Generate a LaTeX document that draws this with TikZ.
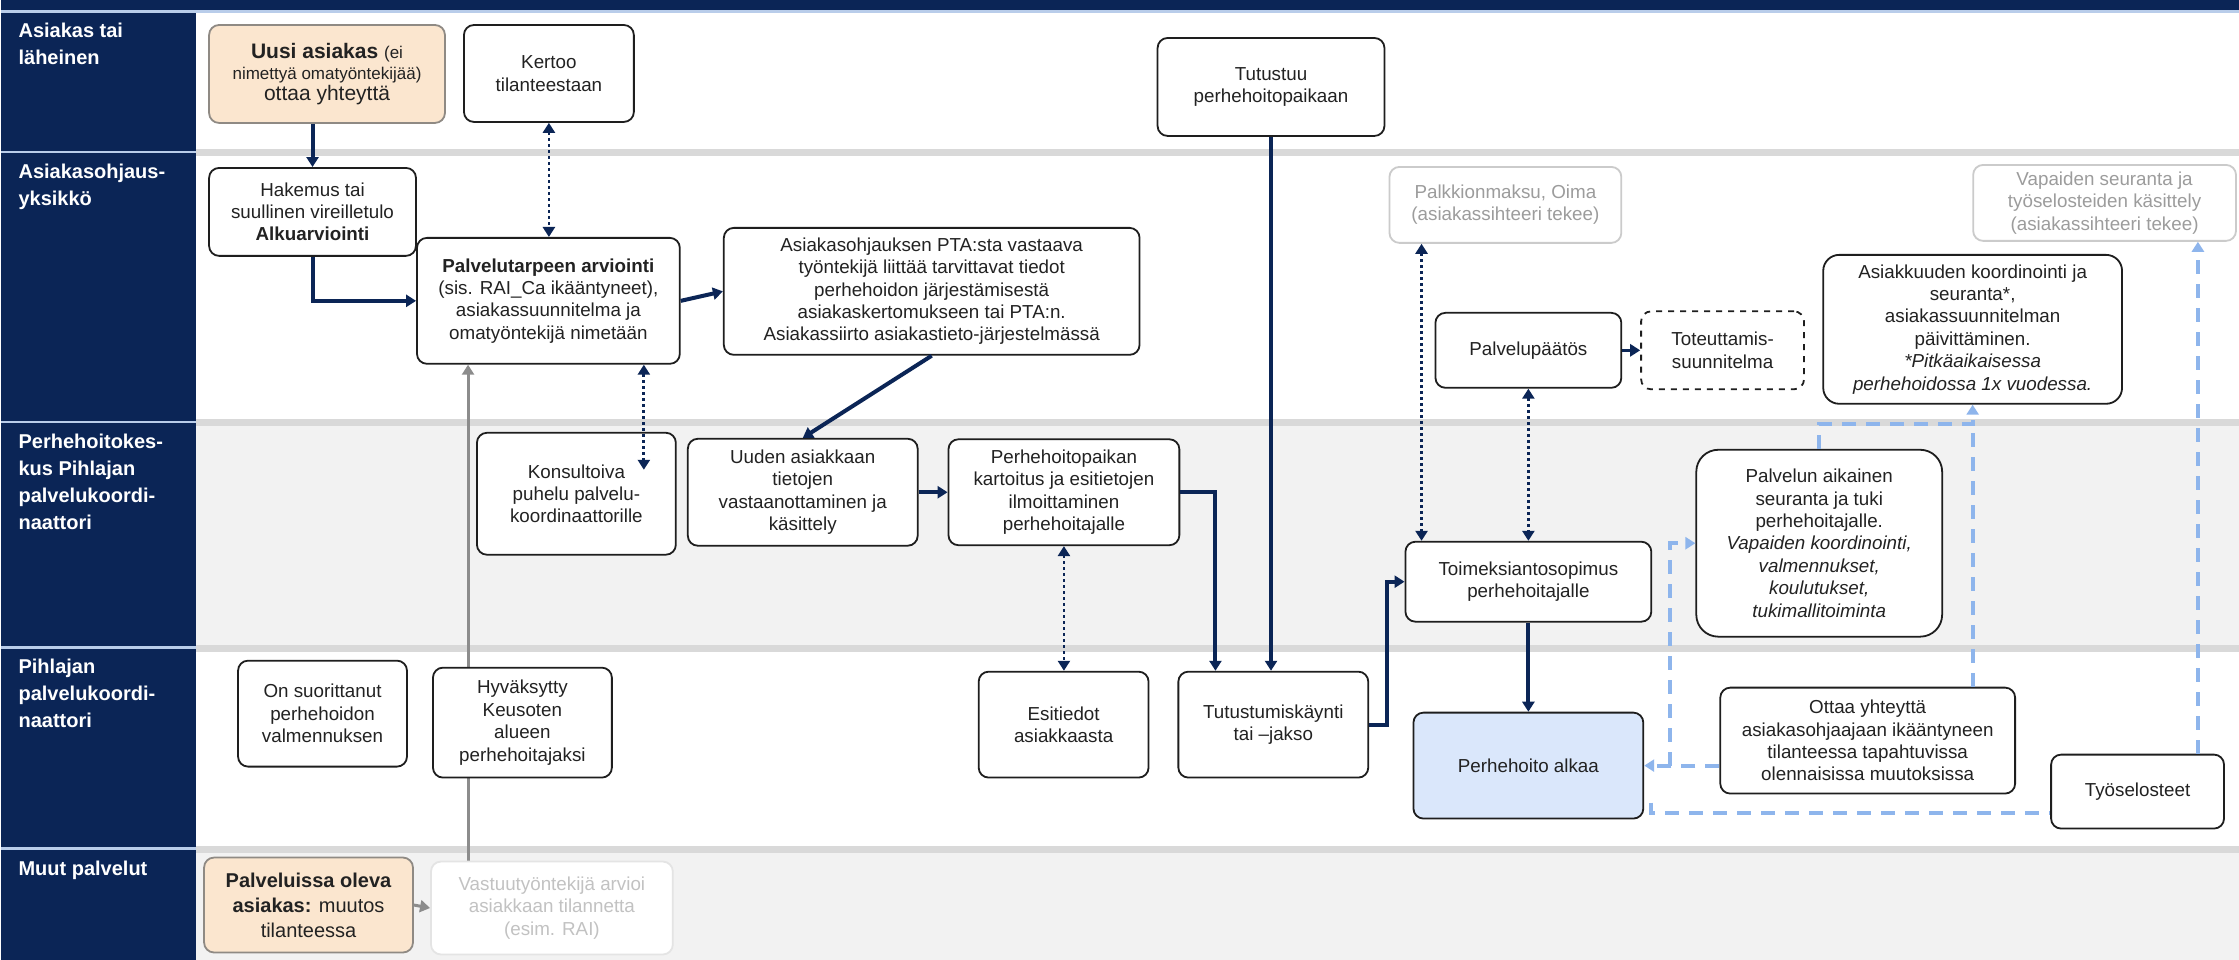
\documentclass[tikz,border=0pt]{standalone}
\usepackage{fontspec}
\setmainfont{Liberation Sans}
\usepackage{tikz}
\usetikzlibrary{arrows.meta,positioning}
\definecolor{navy}{HTML}{0B2556}
\definecolor{ink}{HTML}{222222}
\definecolor{boxline}{HTML}{1E1E1E}
\definecolor{beige}{HTML}{FBE6CF}
\definecolor{beigeline}{HTML}{8F8A84}
\definecolor{faintline}{HTML}{CBCBCB}
\definecolor{fainttext}{HTML}{9C9C9C}
\definecolor{paleline}{HTML}{E4E4E4}
\definecolor{paletext}{HTML}{C2C2C2}
\definecolor{startblue}{HTML}{DAE7FB}
\definecolor{linkblue}{HTML}{8EB5EC}
\definecolor{arrowgray}{HTML}{8C8C8C}
\definecolor{sepgray}{HTML}{D9D9D9}
\definecolor{lanegray}{HTML}{F2F2F2}
\definecolor{laneline}{HTML}{B9CDEA}
\pgfdeclarelayer{lanes}
\pgfdeclarelayer{behind}
\pgfsetlayers{lanes,behind,main}

\begin{document}
\begin{tikzpicture}[x=0.5pt,y=-0.5pt,>={Triangle[length=5pt,width=6pt]}]
	\tikzstyle{box}=[draw=boxline, rectangle, rounded corners=5pt, fill=white, align=center, text=ink, line width=0.9pt, inner sep=2pt, font=\fontsize{9.4}{11.2}\selectfont]
	\tikzstyle{start}=[box, fill=beige, draw=beigeline]
	\tikzstyle{faint}=[box, draw=faintline, text=fainttext]
	\tikzstyle{pale}=[box, draw=paleline, text=paletext]
	\tikzstyle{lanelabel}=[anchor=north west, text=white, align=left, inner sep=0pt, font=\bfseries\fontsize{10}{13.5}\selectfont]
	\tikzstyle{flow}=[->, draw=navy, line width=2pt]
	\tikzstyle{info}=[<->, draw=navy, line width=1.4pt, dash pattern=on 1.4pt off 1.6pt]
	\tikzstyle{link}=[->, draw=linkblue, line width=2pt, dash pattern=on 7pt off 5pt]
	\tikzstyle{grayflow}=[->, draw=arrowgray, line width=1.5pt]

	% lanes
	\begin{pgfonlayer}{lanes}
		\fill[navy] (0,0) rectangle (2239,10);
		\fill[laneline] (0,10) rectangle (2239,13);
		\fill[navy] (0,13) rectangle (195,960);
		\fill[white] (195,13) rectangle (2239,149);
		\fill[sepgray] (195,149) rectangle (2239,156);
		\fill[white] (195,156) rectangle (2239,419);
		\fill[sepgray] (195,419) rectangle (2239,426);
		\fill[lanegray] (195,426) rectangle (2239,645);
		\fill[sepgray] (195,645) rectangle (2239,652);
		\fill[white] (195,652) rectangle (2239,846);
		\fill[sepgray] (195,846) rectangle (2239,853);
		\fill[lanegray] (195,853) rectangle (2239,960);
		\draw[laneline, line width=1.2pt] (0,152) -- (195,152);
		\draw[laneline, line width=1.2pt] (0,422) -- (195,422);
		\draw[laneline, line width=1.2pt] (0,648) -- (195,648);
		\draw[laneline, line width=1.2pt] (0,849) -- (195,849);
	\end{pgfonlayer}

	\node[lanelabel] (lab1) at (17,23) {Asiakas tai\\läheinen};
	\node[lanelabel] (lab2) at (17,164) {Asiakasohjaus-\\yksikkö};
	\node[lanelabel] (lab3) at (17,434) {Perhehoitokes-\\kus Pihlajan\\palvelukoordi-\\naattori};
	\node[lanelabel] (lab4) at (17,659) {Pihlajan\\palvelukoordi-\\naattori};
	\node[lanelabel] (lab5) at (17,861) {Muut palvelut};

	% Asiakas tai läheinen
	\node[start, minimum width=118pt, minimum height=49pt, font=\fontsize{10.5}{10.5}\selectfont] (uusi) at (326,74) {{\bfseries Uusi asiakas} {\fontsize{8.5}{10}\selectfont(ei}\\{\fontsize{8.5}{10}\selectfont nimettyä omatyöntekijää)}\\ottaa yhteyttä};
	\node[box, minimum width=85pt, minimum height=48.5pt] (kertoo) at (548,73.5) {Kertoo\\tilanteestaan};
	\node[box, minimum width=113.5pt, minimum height=49pt] (tutustuu) at (1270.5,87) {Tutustuu\\perhehoitopaikaan};

	% Asiakasohjausyksikkö
	\node[box, minimum width=103.5pt, minimum height=44pt] (hakemus) at (311.5,212) {Hakemus tai\\suullinen vireilletulo\\\textbf{Alkuarviointi}};
	\node[box, minimum width=131.5pt, minimum height=63pt] (pta) at (547.5,301) {\textbf{Palvelutarpeen arviointi}\\(sis. RAI\_Ca ikääntyneet),\\asiakassuunnitelma ja\\omatyöntekijä nimetään};
	\node[box, minimum width=208pt, minimum height=63.5pt] (siirto) at (931,291.5) {Asiakasohjauksen PTA:sta vastaava\\työntekijä liittää tarvittavat tiedot\\perhehoidon järjestämisestä\\asiakaskertomukseen tai PTA:n.\\Asiakassiirto asiakastieto-järjestelmässä};
	\node[faint, minimum width=116pt, minimum height=38pt] (palkkio) at (1505,205) {Palkkionmaksu, Oima\\(asiakassihteeri tekee)};
	\node[faint, minimum width=131.5pt, minimum height=38pt] (vapaat) at (2104.5,203) {Vapaiden seuranta ja\\työselosteiden käsittely\\(asiakassihteeri tekee)};
	\node[box, minimum width=93pt, minimum height=37.5pt] (paatos) at (1528,350.5) {Palvelupäätös};
	\node[box, dashed, minimum width=81.5pt, minimum height=39pt] (toteut) [right=9pt of paatos] {Toteuttamis-\\suunnitelma};
	\node[box, rounded corners=8pt, minimum width=149.5pt, minimum height=74.5pt] (asiakkuus) at (1972.5,329.5) {Asiakkuuden koordinointi ja\\seuranta*,\\asiakassuunnitelman\\päivittäminen.\\\textit{*Pitkäaikaisessa}\\\textit{perhehoidossa 1x vuodessa.}};

	% Perhehoitokeskus
	\node[box, minimum width=99.5pt, minimum height=61pt] (konsult) at (575.5,494) {Konsultoiva\\puhelu palvelu-\\koordinaattorille};
	\node[box, minimum width=115pt, minimum height=53.5pt] (uuden) at (802,492.5) {Uuden asiakkaan\\tietojen\\vastaanottaminen ja\\käsittely};
	\node[box, minimum width=115.5pt, minimum height=53pt] (kartoitus) [right=14.5pt of uuden] {Perhehoitopaikan\\kartoitus ja esitietojen\\ilmoittaminen\\perhehoitajalle};
	\node[box, minimum width=123pt, minimum height=40pt] (toimeksi) at (1528,582) {Toimeksiantosopimus\\perhehoitajalle};
	\node[box, rounded corners=11pt, minimum width=123pt, minimum height=93.5pt] (tuki) at (1819,543.5) {Palvelun aikainen\\seuranta ja tuki\\perhehoitajalle.\\\textit{Vapaiden koordinointi,}\\\textit{valmennukset,}\\\textit{koulutukset,}\\\textit{tukimallitoiminta}};

	% Pihlajan palvelukoordinaattori
	\node[box, minimum width=84.5pt, minimum height=53pt] (suorit) at (321.5,714) {On suorittanut\\perhehoidon\\valmennuksen};
	\node[box, minimum width=89.5pt, minimum height=55pt] (hyvaks) at (521.5,723) {Hyväksytty\\Keusoten\\alueen\\perhehoitajaksi};
	\node[box, minimum width=85pt, minimum height=53pt] (esitiedot) at (1063,725) {Esitiedot\\asiakkaasta};
	\node[box, minimum width=95pt, minimum height=53pt] (kaynti) [right=14pt of esitiedot] {Tutustumiskäynti\\tai –jakso};
	\node[box, fill=startblue, minimum width=115pt, minimum height=53pt] (alkaa) at (1528,766) {Perhehoito alkaa};
	\node[box, minimum width=147.5pt, minimum height=53pt] (ottaa) at (1867.5,741) {Ottaa yhteyttä\\asiakasohjaajaan ikääntyneen\\tilanteessa tapahtuvissa\\olennaisissa muutoksissa};
	\node[box, minimum width=86.5pt, minimum height=37pt] (tyosel) at (2137.5,792) {Työselosteet};

	% Muut palvelut
	\node[start, minimum width=104.5pt, minimum height=47.5pt, font=\fontsize{10}{12.5}\selectfont] (muutos) at (307.5,905.5) {\textbf{Palveluissa oleva}\\\textbf{asiakas:} muutos\\tilanteessa};
	\node[pale, minimum width=121pt, minimum height=46.5pt] (vastuu) at (551,908.5) {Vastuutyöntekijä arvioi\\asiakkaan tilannetta\\(esim. RAI)};

	\coordinate (konsin) at (643,470);
	\coordinate (pk) at ([xshift=16.5pt]palkkio.south west);
	\coordinate (vs) at ([xshift=19pt]vastuu.north west);
	\coordinate (ty) at ([xshift=-13.5pt]tyosel.north east);
	\coordinate (kulma) at (1651,803);

	\draw[flow] (uusi.south -| hakemus.north) -- (hakemus.north);
	\draw[flow] (hakemus.south) |- (pta.west);
	\draw[info] (kertoo.south) -- (kertoo.south |- pta.north);
	\draw[info] (pta.south -| konsin) -- (konsin);
	\draw[flow] (pta.east) -- (siirto.west);
	\draw[flow] (siirto.south) -- (uuden.north);
	\draw[flow] (uuden.east) -- (kartoitus.west);
	\draw[flow] (kartoitus.east) -| ([xshift=19pt]kaynti.north west);
	\draw[flow] (tutustuu.south) -- (tutustuu.south |- kaynti.north);
	\draw[info] (kartoitus.south) -- (kartoitus.south |- esitiedot.north);
	\draw[flow] (kaynti.east) -- ++(18,0) |- (toimeksi.west);
	\draw[info] (pk) -- (pk |- toimeksi.north);
	\draw[info] (paatos.south) -- (toimeksi.north);
	\draw[->, draw=navy, line width=1.5pt] (paatos.east) -- (toteut.west);
	\draw[flow] (toimeksi.south) -- (alkaa.north);

	\draw[link] (ottaa.west |- alkaa.east) -- (alkaa.east);
	\draw[link] ([xshift=13pt]alkaa.east) |- (tuki.west);
	\draw[link] (tuki.north) -- ++(0,-25) -| (asiakkuus.south);
	\draw[link, -] (ottaa.north -| asiakkuus.south) -- ++(0,-263);
	\draw[link] (ty) -- (ty |- vapaat.south);
	\draw[link, -] (kulma) |- ([yshift=-10.5pt]tyosel.west);

	\begin{pgfonlayer}{behind}
		\draw[grayflow] (vs) -- (vs |- pta.south);
	\end{pgfonlayer}
	\draw[grayflow] (muutos.east) -- (vastuu.west);

	\useasboundingbox (0,0) rectangle (2239,960);
\end{tikzpicture}
\end{document}
